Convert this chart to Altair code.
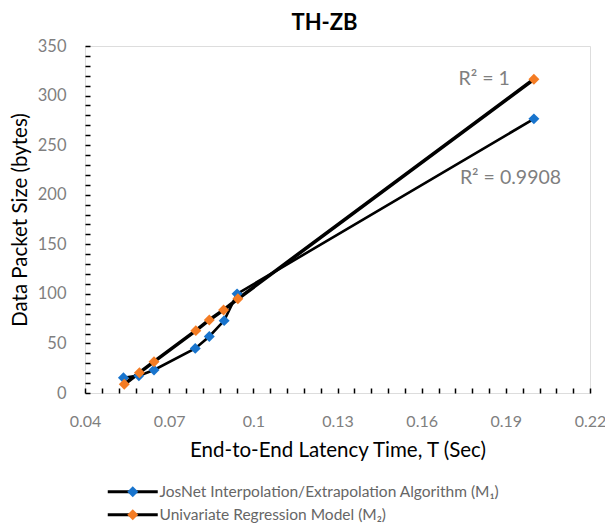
import altair as alt
import pandas as pd

# ---- data ----
series_names = [
    "JosNet Interpolation/Extrapolation Algorithm (M\u2081)",
    "Univariate Regression Model (M\u2082)",
]
t_m1 = [0.0537, 0.0592, 0.0646, 0.0793, 0.0843, 0.0896, 0.0942, 0.2]
size_m1 = [15.4, 17.5, 23.2, 45.0, 57.0, 73.0, 100.0, 276.5]
t_m2 = [0.0540, 0.0594, 0.0646, 0.0795, 0.0843, 0.0894, 0.0945, 0.2]
size_m2 = [8.8, 20.5, 31.6, 62.9, 73.7, 83.8, 95.0, 316.5]
r2_labels = ["R\u00b2 = 0.9908", "R\u00b2 = 1"]
marker_colors = ["#1874CD", "#F47C24"]
line_widths = [2.6, 3.6]

x_ticks = [round(0.04 + 0.006 * i, 3) for i in range(31)]
y_ticks = list(range(0, 351, 10))

FONT = "Lato"

rows = []
for name, ts, ss in [(series_names[0], t_m1, size_m1), (series_names[1], t_m2, size_m2)]:
    for i, (t, s) in enumerate(zip(ts, ss)):
        rows.append({"T": t, "Size": s, "Series": name, "order": i})
df = pd.DataFrame(rows)

x_enc = alt.X(
    "T:Q",
    scale=alt.Scale(domain=[0.04, 0.22], nice=False, zero=False),
    axis=alt.Axis(
        title="End-to-End Latency Time, T (Sec)",
        values=x_ticks,
        tickCount=200,
        labelExpr="abs((datum.value - 0.04) / 0.03 - round((datum.value - 0.04) / 0.03)) < 0.001 ? format(datum.value, '.2~f') : ''",
        domain=False,
        grid=False,
        ticks=True,
        tickSize=5,
        tickWidth=1.5,
        tickColor="black",
        offset=-5,
        labelPadding=20,
        labelFlush=False,
        labelOverlap=False,
        labelFont=FONT,
        labelFontSize=16,
        labelColor="#7f7f7f",
        titleFont=FONT,
        titleFontSize=20.5,
        titleFontWeight="normal",
        titleColor="black",
        titlePadding=11,
    ),
)
y_enc = alt.Y(
    "Size:Q",
    scale=alt.Scale(domain=[0, 350], nice=False, zero=True),
    axis=alt.Axis(
        title="Data Packet Size (bytes)",
        values=y_ticks,
        tickCount=200,
        labelExpr="datum.value % 50 == 0 ? datum.label : ''",
        domain=False,
        grid=False,
        ticks=True,
        tickSize=5,
        tickWidth=1.5,
        tickColor="black",
        offset=-5,
        labelPadding=19,
        labelOverlap=False,
        labelFont=FONT,
        labelFontSize=16.5,
        labelColor="#7f7f7f",
        titleFont=FONT,
        titleFontSize=20.5,
        titleFontWeight="normal",
        titleColor="black",
        titlePadding=7,
    ),
)

base = alt.Chart(df)

legend_common = dict(
    title=None,
    orient="none",
    legendX=40,
    legendY=438,
    direction="vertical",
    symbolSize=25,
    labelFont=FONT,
    labelFontSize=15.5,
    labelLimit=0,
    labelOffset=19,
    rowPadding=6,
    padding=0,
)

lines = base.mark_line().encode(
    x=x_enc,
    y=y_enc,
    order="order:Q",
    stroke=alt.Stroke(
        "Series:N",
        scale=alt.Scale(domain=series_names, range=["black", "black"]),
        legend=alt.Legend(
            symbolType="M-10,0H10",
            symbolStrokeWidth=3,
            symbolStrokeColor="black",
            labelColor="#666666",
            **legend_common,
        ),
    ),
    strokeWidth=alt.StrokeWidth(
        "Series:N",
        scale=alt.Scale(domain=series_names, range=line_widths),
        legend=None,
    ),
)

points = base.mark_point(shape="diamond", filled=True, size=120, opacity=1).encode(
    x="T:Q",
    y="Size:Q",
    fill=alt.Fill(
        "Series:N",
        scale=alt.Scale(domain=series_names, range=marker_colors),
        legend=alt.Legend(
            symbolType="M0,-2.2L2.2,0L0,2.2L-2.2,0Z",
            symbolStrokeWidth=0,
            symbolOpacity=1,
            labelOpacity=0,
            **legend_common,
        ),
    ),
)

last = df[df["order"] == df.groupby("Series")["order"].transform("max")].copy()
last["label"] = r2_labels

r2_m1 = alt.Chart(last[last["Series"] == series_names[0]]).mark_text(
    align="left", baseline="middle", dx=-74, dy=59, font=FONT, fontSize=19.5, color="#7f7f7f"
).encode(x="T:Q", y="Size:Q", text="label:N")

r2_m2 = alt.Chart(last[last["Series"] == series_names[1]]).mark_text(
    align="right", baseline="middle", dx=-24, dy=0, font=FONT, fontSize=19.5, color="#7f7f7f"
).encode(x="T:Q", y="Size:Q", text="label:N")

chart = (
    alt.layer(lines, points, r2_m1, r2_m2)
    .resolve_scale(stroke="independent", fill="independent")
    .properties(
        width=505,
        height=347,
        title=alt.TitleParams(
            "TH-ZB", font=FONT, fontSize=22, fontWeight="bold", color="black",
            anchor="middle", frame="group", offset=3, dx=-13,
        ),
        autosize=alt.AutoSizeParams(type="none"),
        padding={"left": 77, "top": 38, "right": 15, "bottom": 130},
    )
    .configure_view(stroke="black", strokeWidth=2)
    .configure(background="white")
)

chart.save("out.html", embed_options={"renderer": "svg", "actions": False})
